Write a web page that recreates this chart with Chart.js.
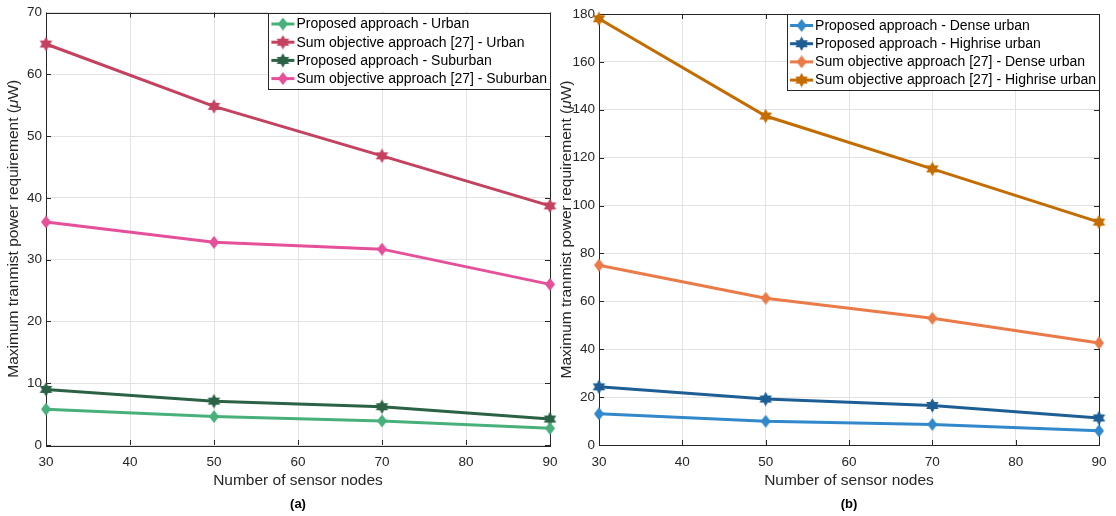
<!DOCTYPE html>
<html><head><meta charset="utf-8">
<script src="https://cdn.jsdelivr.net/npm/chart.js@4.4.1/dist/chart.umd.min.js"></script>
<style>
html,body{margin:0;padding:0;background:#fff;}
#wrap{position:relative;width:1116px;height:516px;overflow:hidden;background:#fff;}
.pane{position:absolute;top:0;height:516px;}
</style></head><body>
<div id="wrap">
<div class="pane" style="left:0;width:562px"><canvas id="c1"></canvas></div>
<div class="pane" style="left:552px;width:564px"><canvas id="c2"></canvas></div>
</div>
<script>
// ---- data ----
const sensorNodes = [30, 50, 70, 90];
const xTickValues = [30, 40, 50, 60, 70, 80, 90];
const yTickValuesA = [0, 10, 20, 30, 40, 50, 60, 70];
const yTickValuesB = [0, 20, 40, 60, 80, 100, 120, 140, 160, 180];

const proposedUrban = [5.8, 4.6, 3.9, 2.7];
const sumObjUrban = [64.9, 54.8, 46.8, 38.7];
const proposedSuburban = [9.0, 7.1, 6.2, 4.2];
const sumObjSuburban = [36.1, 32.8, 31.7, 26.0];

const proposedDense = [13.0, 9.9, 8.6, 5.9];
const proposedHighrise = [24.3, 19.2, 16.5, 11.3];
const sumObjDense = [75.1, 61.3, 52.9, 42.6];
const sumObjHighrise = [178.0, 137.4, 115.3, 93.1];

const labelsA = ['Proposed approach - Urban', 'Sum objective approach [27] - Urban', 'Proposed approach - Suburban', 'Sum objective approach [27] - Suburban'];
const labelsB = ['Proposed approach - Dense urban', 'Proposed approach - Highrise urban', 'Sum objective approach [27] - Dense urban', 'Sum objective approach [27] - Highrise urban'];
const xTitle = 'Number of sensor nodes';
const yTitleParts = ['Maximum tranmist power requirement (', '\u03BC', 'W)'];

// ---- styling ----
const FAM = '"Liberation Sans", Arial, Helvetica, sans-serif';
const INK = '#262626';
const GRID = '#e3e3e3';
const LW = 3;

function diamondImg(color){
  const w = 10, h = 13;
  const c = document.createElement('canvas'); c.width = w; c.height = h;
  const g = c.getContext('2d'); g.fillStyle = color;
  g.beginPath(); g.moveTo(w/2, 0); g.lineTo(w, h/2); g.lineTo(w/2, h); g.lineTo(0, h/2); g.closePath(); g.fill();
  return c;
}
function hexImg(color){
  const s = 15, cx = s/2, cy = s/2, R = 7.2, r = R/Math.sqrt(3);
  const c = document.createElement('canvas'); c.width = s; c.height = s;
  const g = c.getContext('2d'); g.fillStyle = color;
  g.beginPath();
  for (let i = 0; i < 12; i++){
    const a = -Math.PI/2 + i*Math.PI/6;
    const rr = (i % 2 === 0) ? R : r;
    const x = cx + rr*Math.cos(a), y = cy + rr*Math.sin(a);
    if (i === 0) g.moveTo(x, y); else g.lineTo(x, y);
  }
  g.closePath(); g.fill();
  return c;
}

function mkDataset(label, values, color, marker){
  const img = marker === 'd' ? diamondImg(color) : hexImg(color);
  return {
    label, data: sensorNodes.map((x, i) => ({x, y: values[i]})),
    borderColor: color, backgroundColor: color, borderWidth: LW,
    pointStyle: img, pointRadius: 6, pointHoverRadius: 6,
    tension: 0, clip: false, markerImg: img
  };
}

const boxAndTicks = {
  id: 'boxAndTicks',
  beforeDatasetsDraw(chart){
    const {ctx, chartArea: a, scales} = chart;
    ctx.save();
    ctx.strokeStyle = INK; ctx.lineWidth = 1;
    ctx.beginPath();
    const tl = 5;
    scales.x.ticks.forEach(t => {
      const px = Math.round(scales.x.getPixelForValue(t.value)) + 0.5;
      ctx.moveTo(px, a.bottom); ctx.lineTo(px, a.bottom - tl);
      ctx.moveTo(px, a.top); ctx.lineTo(px, a.top + tl);
    });
    scales.y.ticks.forEach(t => {
      const py = Math.round(scales.y.getPixelForValue(t.value)) + 0.5;
      ctx.moveTo(a.left, py); ctx.lineTo(a.left + tl, py);
      ctx.moveTo(a.right, py); ctx.lineTo(a.right - tl, py);
    });
    ctx.stroke();
    ctx.strokeRect(Math.round(a.left) + 0.5, Math.round(a.top) + 0.5, Math.round(a.right - a.left), Math.round(a.bottom - a.top));
    ctx.restore();
  }
};

const extras = {
  id: 'extras',
  afterDatasetsDraw(chart, args, opts){
    const {ctx, chartArea: a} = chart;
    const ds = chart.data.datasets;
    // legend
    ctx.save();
    ctx.font = '14px ' + FAM;
    const maxW = Math.max(...ds.map(d => ctx.measureText(d.label).width));
    const boxW = 28 + maxW + 3;
    const right = a.right;
    const left = right - boxW;
    const top = a.top;
    const rowH = 18.2;
    const boxH = 11.5 + rowH*(ds.length - 1) + 9.5;
    ctx.fillStyle = '#fff';
    ctx.fillRect(left, top, boxW, boxH);
    ctx.strokeStyle = INK; ctx.lineWidth = 1;
    ctx.strokeRect(Math.round(left) + 0.5, Math.round(top) + 0.5, Math.round(boxW), Math.round(boxH));
    ds.forEach((d, i) => {
      const cy = top + 11.5 + i*rowH;
      ctx.strokeStyle = d.borderColor; ctx.lineWidth = LW;
      ctx.beginPath(); ctx.moveTo(left + 3, cy); ctx.lineTo(left + 26, cy); ctx.stroke();
      const img = d.markerImg;
      ctx.drawImage(img, left + 14.5 - img.width/2, cy - img.height/2);
      ctx.fillStyle = '#000'; ctx.textBaseline = 'middle'; ctx.textAlign = 'left';
      ctx.fillText(d.label, left + 28, cy + 0.5);
    });
    ctx.restore();

    // y-axis title with italic mu
    ctx.save();
    ctx.fillStyle = INK;
    const fonts = ['15.5px ' + FAM, 'italic 15.5px ' + FAM, '15.5px ' + FAM];
    let total = 0;
    const widths = yTitleParts.map((p, i) => { ctx.font = fonts[i]; const w = ctx.measureText(p).width; total += w; return w; });
    ctx.translate(a.left - 32, (a.top + a.bottom)/2);
    ctx.rotate(-Math.PI/2);
    ctx.textBaseline = 'middle'; ctx.textAlign = 'left';
    let x = -total/2;
    yTitleParts.forEach((p, i) => { ctx.font = fonts[i]; ctx.fillText(p, x, 0); x += widths[i]; });
    ctx.restore();

    // subfigure caption
    ctx.save();
    ctx.fillStyle = '#000';
    ctx.font = 'bold 13px ' + FAM;
    ctx.textAlign = 'center'; ctx.textBaseline = 'middle';
    ctx.fillText(opts.caption, (a.left + a.right)/2, 504);
    ctx.restore();
  }
};

function makeChart(id, datasets, yMax, yTicks, yWidth, padTop, padRight, caption){
  return new Chart(document.getElementById(id), {
    type: 'line',
    data: { datasets },
    options: {
      responsive: true, maintainAspectRatio: false, animation: false, events: [],
      layout: { padding: { left: 0, top: padTop, right: padRight, bottom: 0 } },
      plugins: { legend: { display: false }, tooltip: { enabled: false }, extras: { caption } },
      scales: {
        x: {
          type: 'linear', min: 30, max: 90,
          afterBuildTicks: s => { s.ticks = xTickValues.map(v => ({ value: v })); },
          grid: { color: GRID, lineWidth: 1, drawTicks: false },
          border: { display: false },
          ticks: { color: INK, font: { size: 13.5, family: FAM }, padding: 9, maxRotation: 0, autoSkip: false },
          title: { display: true, text: xTitle, color: INK, font: { size: 15.5, family: FAM }, padding: { top: 0, bottom: 26 } },
          afterFit: s => { s.height = 71; s.paddingRight = 0; s.paddingLeft = 0; }
        },
        y: {
          type: 'linear', min: 0, max: yMax,
          afterBuildTicks: s => { s.ticks = yTicks.map(v => ({ value: v })); },
          grid: { color: GRID, lineWidth: 1, drawTicks: false },
          border: { display: false },
          ticks: { color: INK, font: { size: 13.5, family: FAM }, padding: 4 },
          afterFit: s => { s.width = yWidth; s.paddingTop = 0; s.paddingBottom = 0; }
        }
      }
    },
    plugins: [boxAndTicks, extras]
  });
}

makeChart('c1', [
  mkDataset(labelsA[0], proposedUrban, '#48b07a', 'd'),
  mkDataset(labelsA[1], sumObjUrban, '#c4415f', 'h'),
  mkDataset(labelsA[2], proposedSuburban, '#2b6246', 'h'),
  mkDataset(labelsA[3], sumObjSuburban, '#e6509a', 'd')
], 70, yTickValuesA, 46, 12.5, 12, '(a)');

makeChart('c2', [
  mkDataset(labelsB[0], proposedDense, '#3189cb', 'd'),
  mkDataset(labelsB[1], proposedHighrise, '#1d5f94', 'h'),
  mkDataset(labelsB[2], sumObjDense, '#ea7a47', 'd'),
  mkDataset(labelsB[3], sumObjHighrise, '#c46c00', 'h')
], 180, yTickValuesB, 47, 14, 17, '(b)');
</script>
</body></html>
